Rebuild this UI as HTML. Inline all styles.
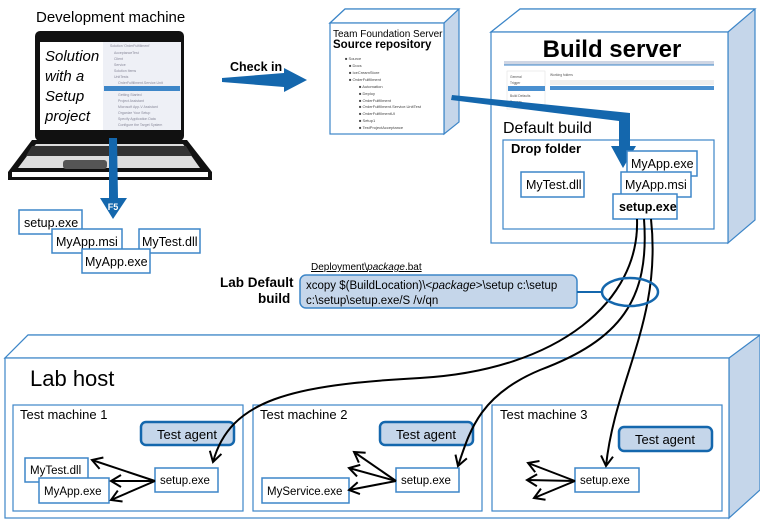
<!DOCTYPE html>
<html><head><meta charset="utf-8"><style>
body{margin:0;background:#fff}
svg{display:block;font-family:"Liberation Sans","DejaVu Sans",sans-serif}
</style></head><body>
<svg width="760" height="525" viewBox="0 0 760 525" xmlns="http://www.w3.org/2000/svg">
<defs>
<marker id="ah" markerWidth="14" markerHeight="14" refX="11" refY="7" orient="auto" markerUnits="userSpaceOnUse">
<path d="M1,1 L11,7 L1,13" fill="none" stroke="#000" stroke-width="2"/>
</marker>
</defs>
<!-- Development machine -->
<text x="36" y="22" font-size="15">Development machine</text>
<rect x="35" y="31" width="149" height="110" rx="5" fill="#111"/>
<rect x="40" y="42" width="141" height="88" fill="#fff"/>
<rect x="103" y="42" width="78" height="88" fill="#eef0f6"/>
<rect x="104" y="86" width="76" height="5" fill="#3d86c8"/>
<g fill="#889" font-size="3.5">
<text x="110" y="47">Solution 'OrderFulfillment'</text><text x="114" y="54">AcceptanceTest</text><text x="114" y="60">Client</text><text x="114" y="66">Service</text><text x="114" y="72">Solution Items</text><text x="114" y="78">UnitTests</text><text x="118" y="84">OrderFulfillment.Service.Unit</text><text x="118" y="96">Getting Started</text><text x="118" y="102">Project Assistant</text><text x="118" y="108">Microsoft App-V Assistant</text><text x="118" y="114">Organize Your Setup</text><text x="118" y="120">Specify Application Data</text><text x="118" y="126">Configure the Target System</text>
</g>
<g font-size="15" font-style="italic" fill="#000">
<text x="45" y="61">Solution</text><text x="45" y="81">with a</text><text x="45" y="101">Setup</text><text x="45" y="121">project</text>
</g>
<path d="M32,140 L187,140 L212,172 L212,180 L8,180 L8,172 Z" fill="#111"/>
<path d="M36,144 L183,144 L200,168 L18,168 Z" fill="#ddd"/>
<path d="M32,146 L186,146 L192,156 L26,156 Z" fill="#333"/>
<rect x="63" y="160" width="44" height="9" rx="3" fill="#555"/>
<path d="M12,172 L208,172 L208,177 L12,177 Z" fill="#fff"/>
<!-- F5 arrow -->
<path d="M109,138 L117,138 L118,198 L127,198 L113,219 L100,198 L109,198 Z" fill="#1467ad"/>
<text x="113" y="210" font-size="9" font-weight="bold" fill="#fff" text-anchor="middle">F5</text>
<g font-size="12.5" stroke-width="1.5">
<rect x="19" y="210" width="63" height="24" fill="#fff" stroke="#3d86c8"/><text x="24" y="227">setup.exe</text>
<rect x="52" y="229" width="70" height="24" fill="#fff" stroke="#3d86c8"/><text x="56" y="246">MyApp.msi</text>
<rect x="139" y="229" width="61" height="24" fill="#fff" stroke="#3d86c8"/><text x="142" y="246">MyTest.dll</text>
<rect x="82" y="249" width="68" height="24" fill="#fff" stroke="#3d86c8"/><text x="85" y="266">MyApp.exe</text>
</g>
<!-- Check in -->
<text x="230" y="71" font-size="12.5" font-weight="bold">Check in</text>
<path d="M222,78 L284,73 L284,68 L307,80 L284,92 L284,87 L222,82 Z" fill="#1467ad"/>
<!-- TFS -->
<path d="M330,23 L345,9 L459,9 L459,122 L444,134 L444,23 Z" fill="#c5d6ea" stroke="#3d86c8" stroke-width="1.2"/>
<path d="M330,23 L345,9 L459,9 L444,23 Z" fill="#fff" stroke="#3d86c8" stroke-width="1.2"/>
<rect x="330" y="23" width="114" height="111" fill="#fff" stroke="#3d86c8" stroke-width="1.2"/>
<text x="333" y="37" font-size="10">Team Foundation Server</text>
<text x="333" y="48" font-size="11.5" font-weight="bold">Source repository</text>
<g font-size="4" fill="#444">
<text x="345" y="60">■ Source</text><text x="349" y="67">■ Docs</text><text x="349" y="74">■ IceCreamStore</text><text x="349" y="81">■ OrderFulfillment</text>
<text x="359" y="88">■ Automation</text><text x="359" y="95">■ Deploy</text><text x="359" y="102">■ OrderFulfillment</text><text x="359" y="108">■ OrderFulfillment.Service.UnitTest</text><text x="359" y="115">■ OrderFulfillmentUI</text><text x="359" y="122">■ Setup1</text><text x="359" y="129">■ TestProjectAcceptance</text>
</g>
<!-- Build server -->
<path d="M491,32 L520,9 L755,9 L755,220 L728,243 L728,32 Z" fill="#c5d6ea" stroke="#3d86c8" stroke-width="1.2"/>
<path d="M491,32 L520,9 L755,9 L728,32 Z" fill="#fff" stroke="#3d86c8" stroke-width="1.2"/>
<rect x="491" y="32" width="237" height="211" fill="#fff" stroke="#3d86c8" stroke-width="1.2"/>
<text x="612" y="57" font-size="24" font-weight="bold" text-anchor="middle">Build server</text>
<rect x="504" y="61" width="210" height="4" fill="#cfd6e4"/>
<line x1="504" y1="65" x2="714" y2="65" stroke="#3d86c8"/>
<rect x="507" y="71" width="38" height="38" fill="#fff" stroke="#ddd" stroke-width="0.5"/>
<rect x="508" y="86" width="37" height="5" fill="#4a90d0"/>
<rect x="550" y="80" width="164" height="5" fill="#eee"/>
<rect x="550" y="86" width="164" height="4" fill="#4a90d0"/>
<g font-size="3.3" fill="#555"><text x="510" y="78">General</text><text x="510" y="84">Trigger</text><text x="510" y="97">Build Defaults</text><text x="510" y="103">Process</text><text x="550" y="76">Working folders</text></g>
<text x="503" y="133" font-size="16">Default build</text>
<rect x="503" y="140" width="211" height="89" fill="#fff" stroke="#3d86c8" stroke-width="1.2"/>
<text x="511" y="153" font-size="13" font-weight="bold">Drop folder</text>
<!-- blue arrow TFS to build -->
<path d="M452,95 L630,113 L630,146 L636,146 L623,168 L611,146 L619,146 L619,121 L451,100 Z" fill="#1467ad"/>
<g font-size="12.5" stroke-width="1.5">
<rect x="521" y="172" width="63" height="25" fill="#fff" stroke="#3d86c8"/><text x="526" y="189">MyTest.dll</text>
<rect x="627" y="151" width="70" height="25" fill="#fff" stroke="#3d86c8"/><text x="631" y="168">MyApp.exe</text>
<rect x="621" y="172" width="70" height="25" fill="#fff" stroke="#3d86c8"/><text x="625" y="189">MyApp.msi</text>
<rect x="613" y="194" width="64" height="25" fill="#fff" stroke="#3d86c8"/><text x="619" y="211" font-weight="bold">setup.exe</text>
</g>
<!-- Lab default build -->
<text x="220" y="287" font-size="13.5" font-weight="bold">Lab Default</text>
<text x="258" y="303" font-size="13.5" font-weight="bold">build</text>
<text x="311" y="270" font-size="10" text-decoration="underline">Deployment\<tspan font-style="italic">package</tspan>.bat</text>
<rect x="300" y="275" width="277" height="33" rx="6" fill="#c5d6ea" stroke="#3d86c8" stroke-width="1.5"/>
<text x="306" y="289" font-size="11.5">xcopy $(BuildLocation)\&lt;<tspan font-style="italic">package</tspan>&gt;\setup c:\setup</text>
<text x="306" y="304" font-size="11.5">c:\setup\setup.exe/S /v/qn</text>
<line x1="577" y1="292" x2="602" y2="292" stroke="#1467ad" stroke-width="2"/>
<!-- Lab host -->
<path d="M5,358 L28,335 L760,335 L760,490 L729,518 L729,358 Z" fill="#c5d6ea" stroke="#3d86c8" stroke-width="1.2"/>
<path d="M5,358 L28,335 L760,335 L729,358 Z" fill="#fff" stroke="#3d86c8" stroke-width="1.2"/>
<rect x="5" y="358" width="724" height="160" fill="#fff" stroke="#3d86c8" stroke-width="1.2"/>
<text x="30" y="386" font-size="22">Lab host</text>
<g stroke="#3d86c8" stroke-width="1.2" fill="#fff">
<rect x="13" y="405" width="230" height="106"/><rect x="253" y="405" width="229" height="106"/><rect x="492" y="405" width="230" height="106"/>
</g>
<g font-size="13"><text x="20" y="419">Test machine 1</text><text x="260" y="419">Test machine 2</text><text x="500" y="419">Test machine 3</text></g>
<g fill="#c5d6ea" stroke="#1467ad" stroke-width="2.5">
<rect x="141" y="422" width="93" height="23" rx="5"/><rect x="380" y="422" width="93" height="23" rx="5"/><rect x="619" y="427" width="93" height="24" rx="5"/>
</g>
<g font-size="13" text-anchor="middle"><text x="187" y="439">Test agent</text><text x="426" y="439">Test agent</text><text x="665" y="444">Test agent</text></g>
<g font-size="11.5" stroke-width="1.5">
<rect x="25" y="458" width="63" height="24" fill="#fff" stroke="#3d86c8"/><text x="30" y="474">MyTest.dll</text>
<rect x="39" y="478" width="70" height="25" fill="#fff" stroke="#3d86c8"/><text x="44" y="495">MyApp.exe</text>
<rect x="262" y="478" width="87" height="25" fill="#fff" stroke="#3d86c8"/><text x="267" y="495">MyService.exe</text>
<rect x="155" y="468" width="63" height="24" fill="#fff" stroke="#3d86c8"/><text x="160" y="484">setup.exe</text>
<rect x="396" y="468" width="63" height="24" fill="#fff" stroke="#3d86c8"/><text x="401" y="484">setup.exe</text>
<rect x="575" y="468" width="64" height="24" fill="#fff" stroke="#3d86c8"/><text x="580" y="484">setup.exe</text>
</g>
<!-- fan arrows -->
<g stroke="#000" stroke-width="2" fill="none" marker-end="url(#ah)">
<path d="M155,481 L92,460"/><path d="M155,481 L111,481"/><path d="M155,481 L111,500"/>
<path d="M396,481 L354,452"/><path d="M396,481 L349,468"/><path d="M396,481 L349,490"/>
<path d="M575,481 L528,463"/><path d="M575,481 L527,480"/><path d="M575,481 L534,498"/>
</g>
<!-- curves -->
<g stroke="#000" stroke-width="2" fill="none" marker-end="url(#ah)">
<path d="M637,219 C640,300 560,370 420,378 C290,385 230,400 213,462"/>
<path d="M644,219 C650,300 620,340 540,370 C480,395 470,430 458,466"/>
<path d="M651,219 C662,320 615,380 606,466"/>
</g>
<ellipse cx="630" cy="292" rx="28" ry="14" fill="none" stroke="#1467ad" stroke-width="2.5"/>
</svg>
</body></html>
